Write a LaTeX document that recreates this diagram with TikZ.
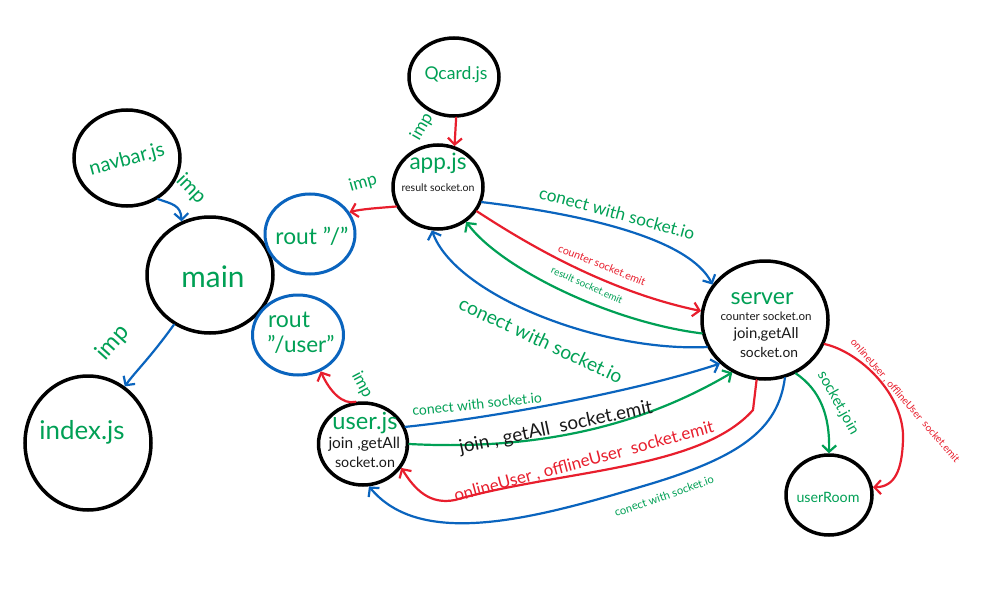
\documentclass[tikz,border=0pt]{standalone}
\usepackage{fontspec}
\setmainfont{Lato}
\usepackage{graphicx}
\usetikzlibrary{arrows.meta,shapes.geometric}
\definecolor{hgreen}{RGB}{0,160,85}
\definecolor{hblue}{RGB}{10,100,190}
\definecolor{hred}{RGB}{232,30,45}
\definecolor{hblack}{RGB}{25,25,25}
\newcommand{\fw}[2]{\resizebox{#1pt}{!}{#2}}
\tikzset{
  bub/.style={ellipse, draw=black, line width=3.5pt, inner sep=0pt},
  bbub/.style={ellipse, draw=hblue, line width=3pt, inner sep=0pt},
  lbl/.style={inner sep=0pt, text=hgreen},
  dlbl/.style={inner sep=0pt, text=hblack},
  conn/.style={line width=2.2pt, line cap=round, line join=round, -{Straight Barb[length=6.5pt,width=14pt]}},
  rc/.style={conn, draw=hred},
  bc/.style={conn, draw=hblue},
  gc/.style={conn, draw=hgreen},
}
\begin{document}
\begin{tikzpicture}[x=1pt,y=-1pt]
\useasboundingbox (0,0) rectangle (982,591);
\fill[white] (0,0) rectangle (982,591);

% bubbles
\node[bub, minimum width=90pt, minimum height=78pt] (qcard) at (454,77) {};
\node[bub, minimum width=90pt, minimum height=84pt] (app) at (438,187) {};
\node[bub, minimum width=106pt, minimum height=96pt] (navbar) at (127,158) {};
\node[bub, minimum width=126pt, minimum height=116pt] (main) at (210,275) {};
\node[bbub, minimum width=90pt, minimum height=80pt] (rout1) at (310,234) {};
\node[bbub, minimum width=91pt, minimum height=80pt] (rout2) at (298,335) {};
\node[bub, minimum width=126pt, minimum height=134pt] (index) at (88,443) {};
\node[bub, minimum width=89pt, minimum height=82pt] (user) at (363,444) {};
\node[bub, minimum width=126pt, minimum height=118pt] (server) at (765,320) {};
\node[bub, minimum width=86pt, minimum height=80pt] (userroom) at (829,495) {};

% bubble texts
\node[lbl] (tqcard) at (456,75) {\fw{63}{Qcard.js}};
\node[lbl] (tapp) at (438,163) {\fw{57}{app.js}};
\node[dlbl] (tapp2) at (438,188) {\fw{73}{result socket.on}};
\node[lbl, rotate=15] (tnavbar) at (127,160) {\fw{77}{navbar.js}};
\node[lbl] (tmain) at (213,277) {\fw{63}{main}};
\node[lbl] (trout1) at (312,236) {\fw{73}{rout "/"}};
\node[lbl] (trout2a) at (289,320) {\fw{42}{rout}};
\node[lbl] (trout2b) at (301,344) {\fw{67}{"/user"}};
\node[lbl] (tindex) at (82,432) {\fw{85}{index.js}};
\node[lbl] (tuser) at (365,423) {\fw{65}{user.js}};
\node[dlbl] (tuser2) at (368,444) {\fw{79}{join ,getAll ,}};
\node[dlbl] (tuser3) at (365,462) {\fw{60}{socket.on}};
\node[lbl] (tserver) at (762,299) {\fw{63}{server}};
\node[dlbl] (tserver2) at (766,316) {\fw{91}{counter socket.on}};
\node[dlbl] (tserver3) at (766,334) {\fw{65}{join,getAll}};
\node[dlbl] (tserver4) at (769,352) {\fw{58}{socket.on}};
\node[lbl] (tuserroom) at (828,497) {\fw{63}{userRoom}};

% connectors
\draw[rc] (qcard.-87) -- (app.68);
\draw[bc] (navbar.-53) .. controls (172,204) and (181,205) .. (main.118);
\draw[bc] (main.-126) .. controls (150,358) and (135,372) .. (index.57);
\draw[rc] (app.205) .. controls (378,208) and (362,209) .. (rout1.29);
\draw[rc] (user.100) .. controls (343,405) and (330,392) .. (rout2.-58);
\draw[bc] (app.-19) .. controls (590,215) and (690,240) .. (server.146);
\draw[rc] (app.-32) .. controls (515,236) and (600,290) .. (server.172);
\draw[gc] (server.192) .. controls (610,322) and (500,268) .. (app.-51);
\draw[bc] (server.205) .. controls (600,352) and (455,295) .. (app.-98);
\draw[bc] (user.22) .. controls (500,417) and (640,390) .. (server.224);
\draw[gc] (user.0) .. controls (560,452) and (660,415) .. (server.238);
\draw[rc] (server.-98) -- (753,410) .. controls (700,470) and (560,470) .. (455,500) .. controls (430,505) and (415,490) .. (user.-32);
\draw[bc] (server.-71) .. controls (778,430) and (740,458) .. (640,487) .. controls (530,520) and (420,548) .. (user.-82);
\draw[gc] (server.-60) .. controls (820,390) and (830,415) .. (userroom.90);
\draw[rc] (server.-22) .. controls (860,352) and (905,395) .. (903,440) .. controls (902,470) and (895,487) .. (userroom.10);

% connector labels
\node[lbl, rotate=60] (imp1) at (422,127) {\fw{28}{imp}};
\node[lbl, rotate=-46] (imp2) at (191,189) {\fw{33}{imp}};
\node[lbl, rotate=16] (imp3) at (363,183) {\fw{28}{imp}};
\node[lbl, rotate=48] (imp4) at (113,343) {\fw{38}{imp}};
\node[lbl, rotate=-62] (imp5) at (362,385) {\fw{27}{imp}};
\node[lbl, rotate=-15] (l1) at (617,213) {\fw{160}{conect with socket.io}};
\node[lbl, text=hred, rotate=-22] (l2) at (602,265) {\fw{93}{counter socket.emit}};
\node[lbl, rotate=-24] (l3) at (587,285) {\fw{77}{result socket.emit}};
\node[lbl, rotate=-25] (l4) at (541,340) {\fw{178}{conect with socket.io}};
\node[lbl, rotate=6] (l5) at (477,404) {\fw{130}{conect with socket.io}};
\node[dlbl, rotate=12] (l6) at (556,428) {\fw{197}{join , getAll\ \ socket.emit}};
\node[lbl, text=hred, rotate=15] (l7) at (584,462) {\fw{268}{onlineUser , offlineUser\ \ socket.emit}};
\node[lbl, rotate=19] (l8) at (664,496) {\fw{104}{conect with socket.io}};
\node[lbl, rotate=-61] (l9) at (838,403) {\fw{70}{socket.join}};
\node[lbl, text=hred, rotate=-49] (l10) at (905,401) {\fw{160}{onlineUser , offlineUser\ \ socket.emit}};
\end{tikzpicture}
\end{document}
